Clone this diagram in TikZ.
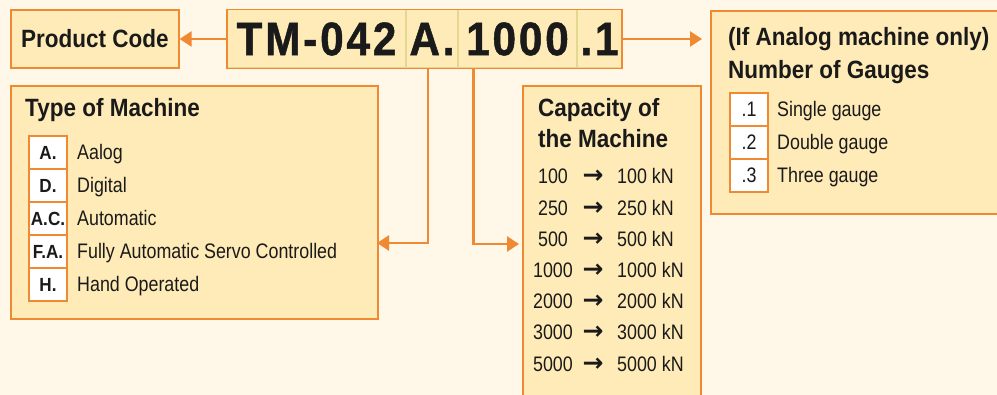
\documentclass[tikz,border=0pt]{standalone}
\usepackage{fontspec}
\setmainfont{Liberation Sans}[FakeStretch=0.85, BoldFeatures={FakeStretch=0.9}]
\newfontfamily\arrowfont{DejaVu Sans}
\usetikzlibrary{arrows.meta, positioning, calc}

\definecolor{pagebg}{HTML}{FFF7E7}
\definecolor{panelfill}{HTML}{FFEBB7}
\definecolor{codeorange}{HTML}{EF8A33}
\definecolor{segline}{HTML}{E2D98E}
\definecolor{inkblack}{HTML}{1A1A1A}

\begin{document}
\begin{tikzpicture}[
			x=1pt, y=-1pt,
			panel/.style={rectangle, draw=codeorange, line width=1.6pt, fill=panelfill, anchor=north west, inner sep=0pt},
			segment/.style={rectangle, draw=segline, line width=1pt, fill=panelfill, minimum height=58, inner sep=0pt, text=inkblack, font=\fontsize{47}{50}\selectfont\bfseries\addfontfeature{LetterSpace=6, FakeBold=1}},
			keybox/.style={rectangle, draw=codeorange, line width=1.2pt, fill=white, minimum width=38, minimum height=33, inner sep=0pt, outer sep=0pt, text=inkblack},
			title/.style={anchor=base west, inner sep=0pt, text=inkblack, font=\fontsize{25}{30}\selectfont\bfseries},
			itemtext/.style={anchor=base west, inner sep=0pt, text=inkblack, font=\fontsize{21}{25}\selectfont},
			link/.style={draw=codeorange, line width=2.5pt, -{Triangle[length=12pt, width=15pt]}}
			]
			
			\useasboundingbox (0,0) rectangle (997,395);
			\clip (0,0) rectangle (997,395);
			\fill[pagebg] (0,0) rectangle (997,395);
			
			% product code
			\node[panel, minimum width=168, minimum height=58, anchor=west, text=inkblack, font=\fontsize{25}{30}\selectfont\bfseries] (prodcode) at (10,39) {Product Code};
			
			\node[segment, minimum width=178, anchor=west] (segTM) at (227,39) {TM-042};
			\node[segment, minimum width=51, right=0pt of segTM] (segType) {A.};
			\node[segment, minimum width=118, right=0pt of segType] (segCap) {1000};
			\node[segment, minimum width=44, right=0pt of segCap] (segGauge) {.1};
			\draw[codeorange, line width=1.6pt] (segTM.north west) rectangle (segGauge.south east);
			
			% type of machine
			\node[panel, minimum width=367, minimum height=233] (typebox) at (10,85) {};
			\node[title] (typetitle) at (25,117) {Type of Machine};
			\node[keybox, anchor=north west, font=\fontsize{19}{24}\selectfont\bfseries] (keyA) at (29,136) {A.};
			\node[keybox, below=0pt of keyA, font=\fontsize{19}{24}\selectfont\bfseries] (keyD) {D.};
			\node[keybox, below=0pt of keyD, font=\fontsize{19}{24}\selectfont\bfseries] (keyAC) {A.C.};
			\node[keybox, below=0pt of keyAC, font=\fontsize{19}{24}\selectfont\bfseries] (keyFA) {F.A.};
			\node[keybox, below=0pt of keyFA, font=\fontsize{19}{24}\selectfont\bfseries] (keyH) {H.};
			\node[itemtext] (tA) at ([xshift=10]keyA.base east) {Aalog};
			\node[itemtext] (tD) at ([xshift=10]keyD.base east) {Digital};
			\node[itemtext] (tAC) at ([xshift=10]keyAC.base east) {Automatic};
			\node[itemtext] (tFA) at ([xshift=10]keyFA.base east) {Fully Automatic Servo Controlled};
			\node[itemtext] (tH) at ([xshift=10]keyH.base east) {Hand Operated};
			
			% capacity
			\node[panel, minimum width=178, minimum height=330] (capbox) at (522,85) {};
			\node[title] (captitle1) at (538,117) {Capacity of};
			\node[title] (captitle2) at (538,148) {the Machine};
			\foreach \n [count=\i from 0] in {100,250,500,1000,2000,3000,5000} {
				\node[itemtext, anchor=base] (capin\n) at (553,184+31.2*\i) {\n};
				\node[itemtext, anchor=base, font=\fontsize{25}{25}\arrowfont\bfseries] (caparr\n) at (593,184+31.2*\i) {→};
				\node[itemtext] (capout\n) at (617,184+31.2*\i) {\n\ kN};
			}
			
			% number of gauges
			\node[panel, minimum width=300, minimum height=203] (gaugebox) at (710,10) {};
			\node[title] (gaugetitle1) at (728,46) {(If Analog machine only)};
			\node[title] (gaugetitle2) at (728,79) {Number of Gauges};
			\node[keybox, anchor=north west, font=\fontsize{21}{25}\selectfont] (keyG1) at (730,93) {.1};
			\node[keybox, below=0pt of keyG1, font=\fontsize{21}{25}\selectfont] (keyG2) {.2};
			\node[keybox, below=0pt of keyG2, font=\fontsize{21}{25}\selectfont] (keyG3) {.3};
			\node[itemtext] (tG1) at ([xshift=9]keyG1.base east) {Single gauge};
			\node[itemtext] (tG2) at ([xshift=9]keyG2.base east) {Double gauge};
			\node[itemtext] (tG3) at ([xshift=9]keyG3.base east) {Three gauge};
			
			% connectors
			\coordinate (typeport) at (377,243);
			\coordinate (capport) at (522,244);
			\draw[link] (segTM.west) -- (prodcode.east);
			\draw[link, shorten >=8pt] (segGauge.east) -- (gaugebox.west |- segGauge.east);
			\draw[link] ([xshift=-4]segType.south) |- (typeport);
			\draw[link, shorten >=3pt] ([xshift=-44]segCap.south) |- (capport);
		\end{tikzpicture}
\end{document}
